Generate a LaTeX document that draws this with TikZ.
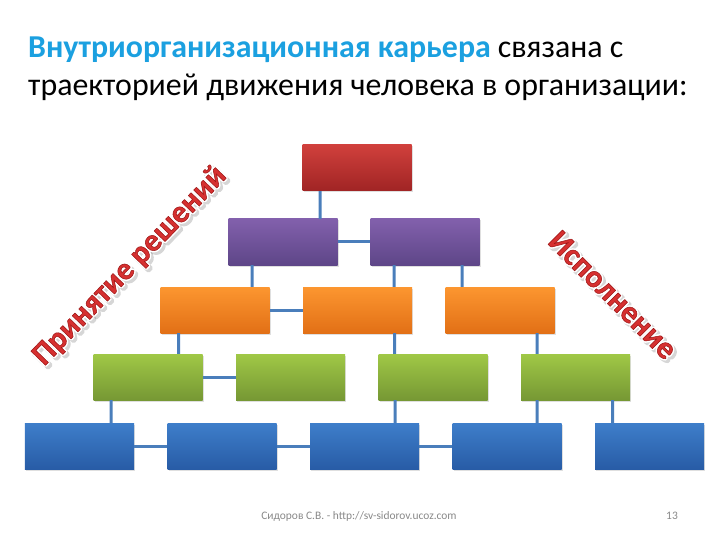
\documentclass[tikz,border=0pt]{standalone}
\usepackage{fontspec}
\setmainfont{Carlito}
\usetikzlibrary{shadows}

\definecolor{titleblue}{RGB}{27,160,224}
\definecolor{linkblue}{RGB}{74,126,187}
\definecolor{artred}{RGB}{214,48,48}
\definecolor{footgray}{RGB}{137,137,137}

% stroked glyphs for the rim and the edge of the slanted words
\newcommand\rimtext[1]{\special{pdf:literal direct 1 Tr 3.6 w 1 j}#1\special{pdf:literal direct 0 Tr}}
\newcommand\edgetext[1]{\special{pdf:literal direct 2 Tr 0.5 w 1 j 0.6 0.08 0.08 RG}#1\special{pdf:literal direct 0 Tr}}

\tikzset{
	lvl/.style={minimum width=109bp, minimum height=46bp, inner sep=0pt,
		drop shadow={opacity=0.25, shadow xshift=1.2bp, shadow yshift=-1.5bp}},
	redbox/.style={lvl, top color={rgb,255:red,208;green,64;blue,60}, bottom color={rgb,255:red,160;green,36;blue,36}},
	purplebox/.style={lvl, top color={rgb,255:red,130;green,96;blue,172}, bottom color={rgb,255:red,94;green,70;blue,136}},
	orangebox/.style={lvl, top color={rgb,255:red,252;green,150;blue,48}, bottom color={rgb,255:red,226;green,112;blue,22}},
	greenbox/.style={lvl, top color={rgb,255:red,160;green,200;blue,70}, bottom color={rgb,255:red,118;green,152;blue,52}},
	bluebox/.style={lvl, top color={rgb,255:red,62;green,126;blue,202}, bottom color={rgb,255:red,40;green,92;blue,166}},
	link/.style={draw=linkblue, line width=3bp},
	art/.style={font=\fontsize{31.5}{38}\bfseries\selectfont, inner sep=0pt},
	foot/.style={font=\fontsize{11.5}{14}\selectfont, text=footgray}
}

\begin{document}
\begin{tikzpicture}[x=1bp,y=-1bp]
	\useasboundingbox[fill=white] (0,0) rectangle (720,540);

	% title
	\node[anchor=base west, inner sep=0pt, font=\fontsize{32}{38}\selectfont] (title1) at (28,58)
		{{\bfseries\color{titleblue}Внутриорганизационная карьера} связана с};
	\node[anchor=base west, inner sep=0pt, font=\fontsize{32}{38}\selectfont] (title2) at (28,96)
		{траекторией движения человека в организации:};

	% boxes
	\node[redbox] (top) at (357,168) {};
	\node[purplebox] (p1) at (283,242) {};
	\node[purplebox] (p2) at (425,242) {};
	\foreach \i/\x in {1/215,2/357.5,3/500}
		\node[orangebox] (o\i) at (\x,310) {};
	\foreach \i/\x in {1/148,2/290.5,3/433,4/575.5}
		\node[greenbox] (g\i) at (\x,377) {};
	\foreach \i/\x in {1/79.5,2/222,3/364.5,4/507,5/649.5}
		\node[bluebox] (b\i) at (\x,446) {};

	% connectors
	\draw[link] ([xshift=-37bp]top.south) -- ([xshift=37bp]p1.north);
	\draw[link] (p1.east) -- (p2.west);
	\draw[link] ([xshift=-31bp]p1.south) -- ([xshift=37bp]o1.north);
	\draw[link] ([xshift=-31bp]p2.south) -- ([xshift=36.5bp]o2.north);
	\draw[link] ([xshift=37bp]p2.south) -- ([xshift=-38bp]o3.north);
	\draw[link] (o1.east) -- (o2.west);
	\draw[link] ([xshift=-36.5bp]o1.south) -- ([xshift=30.5bp]g1.north);
	\draw[link] ([xshift=37bp]o2.south) -- ([xshift=-38.5bp]g3.north);
	\draw[link] ([xshift=37bp]o3.south) -- ([xshift=-38.5bp]g4.north);
	\draw[link] (g1.east) -- (g2.west);
	\draw[link] ([xshift=-37bp]g1.south) -- ([xshift=31.5bp]b1.north);
	\draw[link] ([xshift=-38bp]g3.south) -- ([xshift=30.5bp]b3.north);
	\draw[link] ([xshift=-38.5bp]g4.south) -- ([xshift=30bp]b4.north);
	\draw[link] ([xshift=37bp]g4.south) -- ([xshift=-37bp]b5.north);
	\draw[link] (b1.east) -- (b2.west);
	\draw[link] (b2.east) -- (b3.west);
	\draw[link] (b3.east) -- (b4.west);

	% slanted words: shadow, white rim, red letters
	\node[art, rotate=46, text=black, opacity=0.16] (decide shadow) at (132.5,268.5) {\rimtext{Принятие решений}};
	\node[art, rotate=-45, text=black, opacity=0.16] (perform shadow) at (615.5,297.5) {\rimtext{Исполнение}};
	\node[art, rotate=46, text=white] (decide rim) at (130,266) {\rimtext{Принятие решений}};
	\node[art, rotate=-45, text=white] (perform rim) at (613,295) {\rimtext{Исполнение}};
	\node[art, rotate=46, text=artred] (decide) at (130,266) {\edgetext{Принятие решений}};
	\node[art, rotate=-45, text=artred] (perform) at (613,295) {\edgetext{Исполнение}};

	% footer
	\node[foot] (author) at (359,516) {Сидоров С.В. - http://sv-sidorov.ucoz.com};
	\node[foot] (page) at (672,516) {13};
\end{tikzpicture}
\end{document}
